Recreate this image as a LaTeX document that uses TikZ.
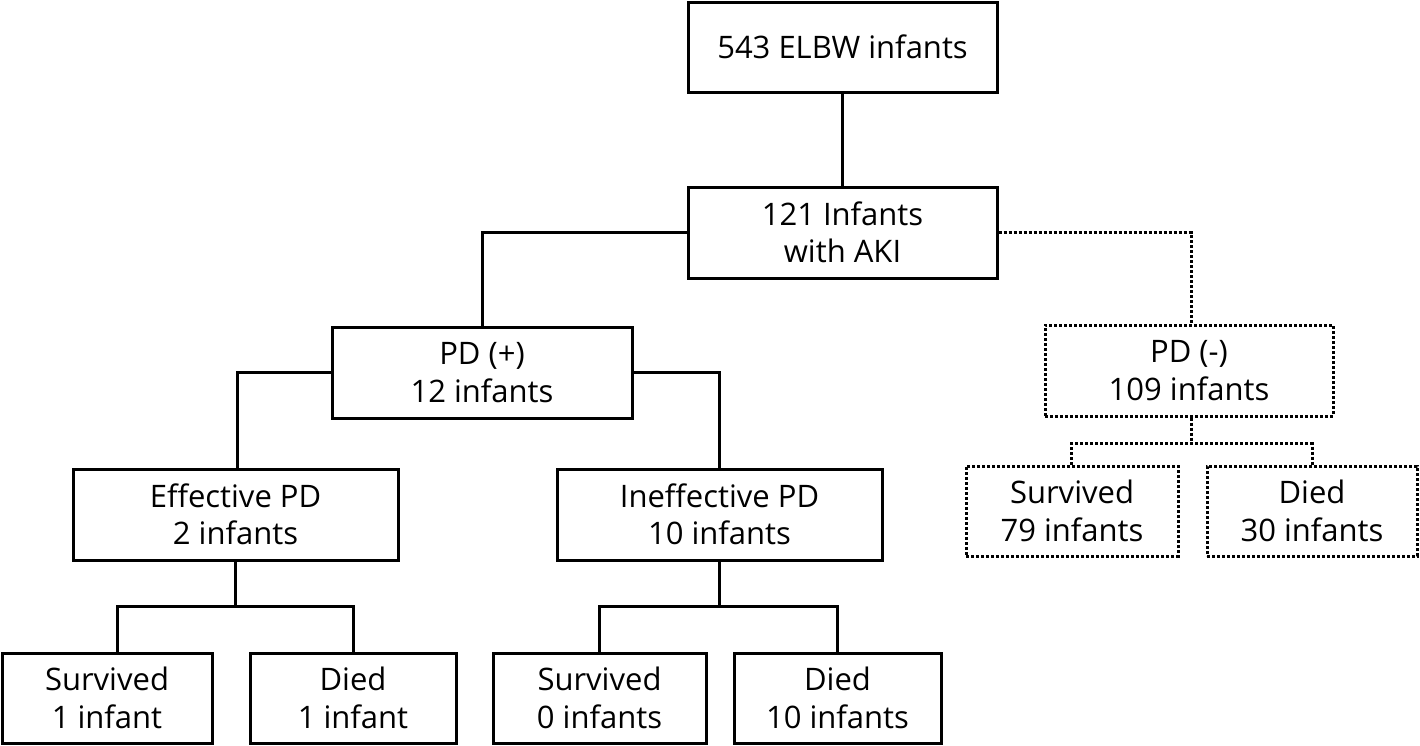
\documentclass[tikz,border=0pt]{standalone}
\usepackage{fontspec}
\setmainfont{Open Sans}
\usetikzlibrary{calc}
\begin{document}
\begin{tikzpicture}[x=1pt,y=-1pt,
  box/.style={draw,line width=3pt,inner sep=0pt,align=center,
    font=\fontsize{31}{37.5}\selectfont},
  dotbox/.style={box,dash pattern=on 3pt off 2pt},
  conn/.style={line width=3pt},
  dotconn/.style={line width=3pt,dash pattern=on 3pt off 2pt}]
\useasboundingbox (0,0) rectangle (1420,745);
\node[box,minimum width=309pt,minimum height=90pt] (top) at (842.5,47) {543 ELBW infants};
\node[box,minimum width=309pt,minimum height=91pt] (aki) at (842.5,232.5) {121 Infants\\with AKI};
\node[box,minimum width=300pt,minimum height=91pt] (pdp) at (482,372.5) {PD (+)\\12 infants};
\node[dotbox,minimum width=288pt,minimum height=91pt] (pdm) at (1189,370.5) {PD (-)\\109 infants};
\node[box,minimum width=325pt,minimum height=91pt] (eff) at (235.5,514.5) {Effective PD\\2 infants};
\node[box,minimum width=325pt,minimum height=91pt] (ineff) at (719.5,514.5) {Ineffective PD\\10 infants};
\node[box,minimum width=210pt,minimum height=90pt] (s1) at (107,698) {Survived\\1 infant};
\node[box,minimum width=206pt,minimum height=90pt] (d1) at (353,698) {Died\\1 infant};
\node[box,minimum width=213pt,minimum height=90pt] (s0) at (599.5,698) {Survived\\0 infants};
\node[box,minimum width=207pt,minimum height=90pt] (d10) at (837.5,698) {Died\\10 infants};
\node[dotbox,minimum width=212pt,minimum height=90pt] (s79) at (1072,511) {Survived\\79 infants};
\node[dotbox,minimum width=210pt,minimum height=90pt] (d30) at (1312,511) {Died\\30 infants};
\coordinate (ej) at ($(eff.south)+(0,45)$);
\coordinate (ij) at ($(ineff.south)+(0,45)$);
\coordinate (mj) at ($(pdm.south)+(2,26)$);
\draw[conn] (top.south) -- (aki.north);
\draw[conn] (aki.west) -| (pdp.north);
\draw[dotconn] (aki.east) -| ([xshift=2pt]pdm.north);
\draw[conn] (pdp.west) -| ([xshift=1.5pt]eff.north);
\draw[conn] (pdp.east) -| (ineff.north);
\draw[conn] (eff.south) -- (ej);
\draw[conn] ([xshift=10pt]s1.north) |- (ej) -| (d1.north);
\draw[conn] (ineff.south) -- (ij);
\draw[conn] (s0.north) |- (ij) -| (d10.north);
\draw[dotconn] ([xshift=2pt]pdm.south) -- (mj);
\draw[dotconn] ([xshift=-1pt]s79.north) |- (mj) -| (d30.north);
\end{tikzpicture}
\end{document}
